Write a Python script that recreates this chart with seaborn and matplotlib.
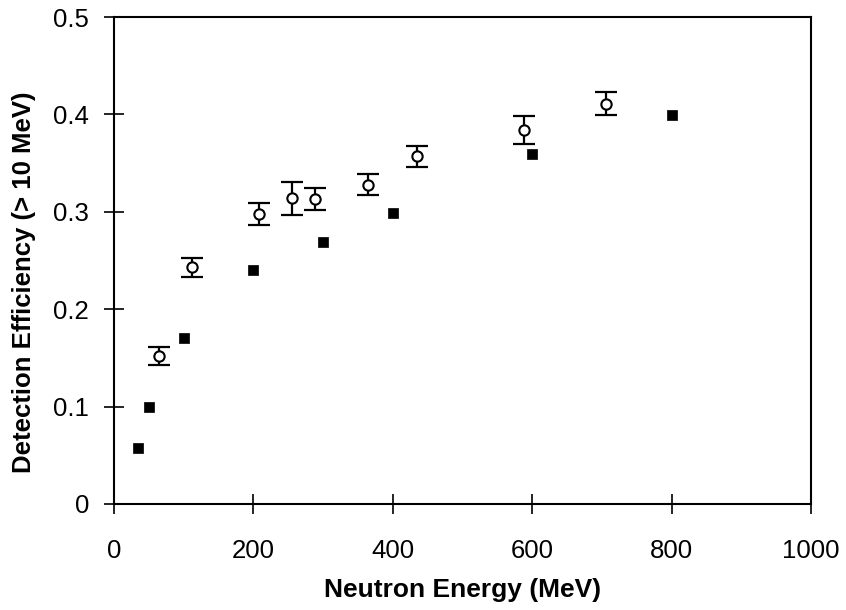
import matplotlib
matplotlib.use("Agg")
import matplotlib.pyplot as plt
import seaborn as sns
import pandas as pd

# filled squares (no error bars)
sq_energy = [35, 50, 100, 200, 300, 400, 600, 800]
sq_eff = [0.058, 0.100, 0.170, 0.240, 0.269, 0.299, 0.359, 0.399]

# open circles with error bars
circ_energy = [65, 112, 208, 256, 288, 364, 435, 588, 706]
circ_eff = [0.152, 0.243, 0.298, 0.314, 0.313, 0.328, 0.357, 0.384, 0.411]
circ_err = [0.009, 0.010, 0.011, 0.017, 0.011, 0.011, 0.011, 0.014, 0.012]

x_ticks = [0, 200, 400, 600, 800, 1000]
y_ticks = [0, 0.1, 0.2, 0.3, 0.4, 0.5]
y_tick_labels = ["0", "0.1", "0.2", "0.3", "0.4", "0.5"]

sq_df = pd.DataFrame({"energy": sq_energy, "eff": sq_eff})
circ_df = pd.DataFrame({"energy": circ_energy, "eff": circ_eff, "err": circ_err})

sns.set_style("ticks")
plt.rcParams["font.family"] = ["Liberation Sans", "DejaVu Sans"]

fig = plt.figure(figsize=(8.46, 6.1), dpi=100)
ax = fig.add_axes([0.1348, 0.1738, 0.8238, 0.7982])

ax.errorbar(circ_df["energy"], circ_df["eff"], yerr=circ_df["err"], fmt="none",
            ecolor="black", elinewidth=1.6, capsize=8, capthick=1.6, zorder=2)
sns.scatterplot(data=circ_df, x="energy", y="eff", ax=ax, marker="o", s=55,
                facecolor="white", edgecolor="black", linewidth=1.5, zorder=3)
sns.scatterplot(data=sq_df, x="energy", y="eff", ax=ax, marker="s", s=50,
                color="black", edgecolor="black", linewidth=0.5, zorder=3)

ax.set_xlim(0, 1000)
ax.set_ylim(0, 0.5)
ax.set_xticks(x_ticks)
ax.set_yticks(y_ticks)
ax.set_yticklabels(y_tick_labels)
ax.tick_params(direction="inout", length=14, width=1.2, labelsize=18.5,
               colors="black")
ax.tick_params(axis="x", pad=18)
ax.tick_params(axis="y", pad=11)
for sp in ax.spines.values():
    sp.set_visible(True)
    sp.set_linewidth(1.5)
    sp.set_color("black")

ax.set_xlabel("Neutron Energy (MeV)", fontsize=19, fontweight="bold", color="black")
ax.set_ylabel("Detection Efficiency (> 10 MeV)", fontsize=18.5, fontweight="bold",
              color="black")
ax.xaxis.set_label_coords(0.5, -0.152)
ax.xaxis.label.set_va("top")
ax.yaxis.set_label_coords(-0.112, 0.456)

fig.savefig("out.png", dpi=100)
